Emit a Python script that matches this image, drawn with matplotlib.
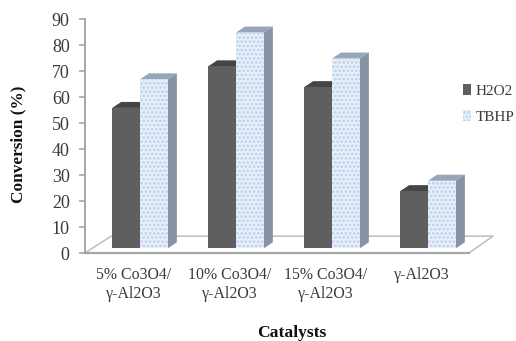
import numpy as np
import matplotlib
matplotlib.use('Agg')
from matplotlib import pyplot as plt
from matplotlib.patches import Polygon, Patch

plt.rcParams['font.family'] = ['Liberation Serif', 'DejaVu Serif']
plt.rcParams['hatch.linewidth'] = 0.5

catalysts = ['5% Co3O4/\nγ-Al2O3', '10% Co3O4/\nγ-Al2O3', '15% Co3O4/\nγ-Al2O3', 'γ-Al2O3']
h2o2 = [54, 70, 62, 22]
tbhp = [65, 83, 73, 26]
yticks = np.arange(0, 100, 10)

bar_w = 0.29
depth_x = 0.094   # oblique offset of the fake 3d boxes
depth_y = 2.3
base = 1.8        # bars stand a little in from the front of the floor
x_lo = -0.573
x_hi = 3.677
text_col = '#3a3a3a'
axis_col = '#a6a6a6'
tbhp_face = '#e6effa'
tbhp_hatch = '#c2d4ee'

fig = plt.figure(figsize=(5.16, 3.41), dpi=100)
ax = fig.add_axes([85/516, 1-253/341, 408/516, 234/341])
ax.set_xlim(x_lo, x_hi)
ax.set_ylim(0, 90)


def box(x, val, front, top, side, **kw):
    left = x - bar_w/2
    right = x + bar_w/2
    y = base + val
    ax.add_patch(Polygon([(left, y), (left+depth_x, y+depth_y), (right+depth_x, y+depth_y), (right, y)],
                         fc=top, ec='none', zorder=3))
    ax.add_patch(Polygon([(right, base), (right+depth_x, base+depth_y), (right+depth_x, y+depth_y), (right, y)],
                         fc=side, ec='none', zorder=3))
    ax.bar(x, val, bar_w, bottom=base, color=front, zorder=4, **kw)


# floor of the chart
ax.plot([x_lo, -0.30, x_hi, 3.427, x_lo],
        [0, 6.5, 6.5, 0, 0], color='#bdbdbd', lw=1.1, zorder=1, clip_on=False)
ax.plot([x_lo, 3.427], [0, 0], color=axis_col, lw=1.6, zorder=2, clip_on=False)

for i in range(len(catalysts)):
    box(i - bar_w/2, h2o2[i], '#5f5f5f', '#454545', '#4a4a4a')
    box(i + bar_w/2, tbhp[i], tbhp_face, '#97a6b8', '#8694a5',
        hatch='oooo', edgecolor=tbhp_hatch, linewidth=0)

for s in ['top', 'right', 'bottom']:
    ax.spines[s].set_visible(False)
ax.spines['left'].set_color(axis_col)
ax.spines['left'].set_linewidth(1.4)

ax.set_yticks(yticks)
ax.tick_params(axis='y', length=4.5, width=1.2, color=axis_col, labelsize=13,
               labelcolor=text_col, pad=6.5)
# category labels sit at the middle of each floor slot, left of the box centres
ax.set_xticks(np.arange(len(catalysts)) - 0.07)
ax.set_xticklabels(catalysts, fontsize=11.4, color=text_col, linespacing=1.3)
ax.tick_params(axis='x', length=0, pad=10)

fig.text(18/516, 1-144/341, 'Conversion (%)', rotation=90, ha='center', va='center',
         fontsize=12.4, fontweight='bold', color='#111111')
fig.text(292/516, 1-333/341, 'Catalysts', ha='center', va='center',
         fontsize=12.6, fontweight='bold', color='#111111')

handles = [Patch(fc='#5f5f5f', ec='none'),
           Patch(fc=tbhp_face, ec=tbhp_hatch, hatch='oooo', lw=0)]
fig.legend(handles, ['H2O2', 'TBHP'], loc='center left', bbox_to_anchor=(463/516, 1-104/341),
           frameon=False, fontsize=11, handlelength=0.55, handleheight=0.7, handletextpad=0.3,
           labelspacing=0.85, labelcolor=text_col, borderpad=0, borderaxespad=0)

fig.savefig('out.png', dpi=100)
